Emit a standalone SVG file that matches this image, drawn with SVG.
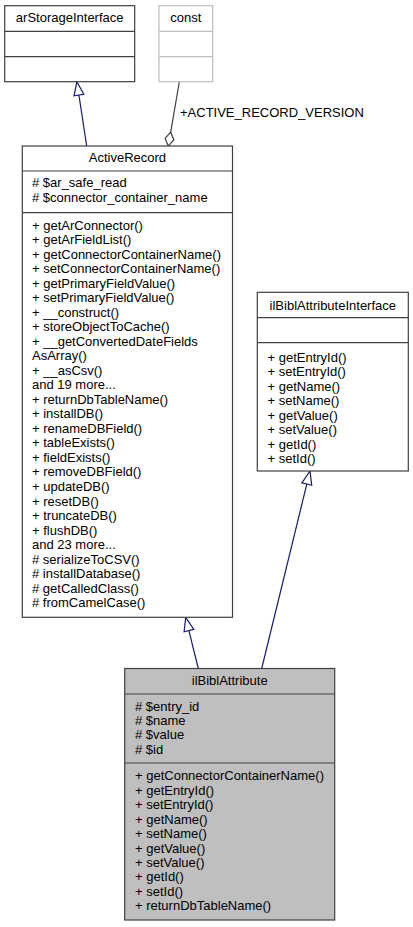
<svg xmlns="http://www.w3.org/2000/svg" width="413" height="927" viewBox="0 0 413 927">
<style>
text{font-family:"Liberation Sans",Arial,Helvetica,sans-serif;font-size:13px;fill:#000}
.c{text-anchor:middle}
.box{fill:#fff;stroke:#404040;stroke-width:1.2}
.sep{stroke:#404040;stroke-width:1.2}
.gbox{fill:#fff;stroke:#bfbfbf;stroke-width:1.2}
.gsep{stroke:#bfbfbf;stroke-width:1.2}
.cur{fill:#bfbfbf;stroke:#404040;stroke-width:1.2}
.inh{fill:none;stroke:#191970;stroke-width:1.2}
.inhh{fill:#fff;stroke:#191970;stroke-width:1.2}
.agg{fill:none;stroke:#404040;stroke-width:1.2}
.aggh{fill:#fff;stroke:#404040;stroke-width:1.2}
</style>
<rect width="413" height="927" fill="#fff"/>
<g id="connectors">
<path class="inh" d="M86.7,146 L78.9,95"/>
<polygon class="inhh" points="76.9,81.7 74,95.8 83.8,94.3"/>
<path class="agg" d="M179.3,82 L170.7,132.2"/>
<polygon class="aggh" points="168.3,146 165.1,138.3 170.7,132.2 173.9,139.9"/>
<text x="180" y="116.8">+ACTIVE_RECORD_VERSION</text>
<path class="inh" d="M198.3,668.5 L188.9,630.6"/>
<polygon class="inhh" points="185.7,617.5 184.1,631.8 193.8,629.4"/>
<path class="inh" d="M261.7,668.5 L306.8,484.1"/>
<polygon class="inhh" points="310,471 301.9,482.9 311.7,485.3"/>
</g>
<g id="arStorageInterface">
<rect class="box" x="4.7" y="5.7" width="130" height="76"/>
<line class="sep" x1="4.7" y1="31.3" x2="134.7" y2="31.3"/>
<line class="sep" x1="4.7" y1="56.7" x2="134.7" y2="56.7"/>
<text class="c" x="69.7" y="21.9">arStorageInterface</text>
</g>
<g id="const">
<rect class="gbox" x="159" y="5.7" width="53.7" height="76"/>
<line class="gsep" x1="159" y1="31.3" x2="212.7" y2="31.3"/>
<line class="gsep" x1="159" y1="56.7" x2="212.7" y2="56.7"/>
<text class="c" x="185.8" y="21.9">const</text>
</g>
<g id="ActiveRecord">
<rect class="box" x="22.3" y="146" width="210.2" height="471.3"/>
<line class="sep" x1="22.3" y1="171" x2="232.5" y2="171"/>
<line class="sep" x1="22.3" y1="212.7" x2="232.5" y2="212.7"/>
<text class="c" x="127.4" y="161.9">ActiveRecord</text>
<text x="32" y="187.3"># $ar_safe_read</text>
<text x="32" y="202.3"># $connector_container_name</text>
<text x="32" y="229.6">+ getArConnector()</text>
<text x="32" y="244.1">+ getArFieldList()</text>
<text x="32" y="258.6">+ getConnectorContainerName()</text>
<text x="32" y="273.2">+ setConnectorContainerName()</text>
<text x="32" y="287.7">+ getPrimaryFieldValue()</text>
<text x="32" y="302.2">+ setPrimaryFieldValue()</text>
<text x="32" y="316.7">+ __construct()</text>
<text x="32" y="331.2">+ storeObjectToCache()</text>
<text x="32" y="345.8">+ __getConvertedDateFields</text>
<text x="32" y="360.3">AsArray()</text>
<text x="32" y="374.8">+ __asCsv()</text>
<text x="32" y="389.3">and 19 more...</text>
<text x="32" y="403.8">+ returnDbTableName()</text>
<text x="32" y="418.4">+ installDB()</text>
<text x="32" y="432.9">+ renameDBField()</text>
<text x="32" y="447.4">+ tableExists()</text>
<text x="32" y="461.9">+ fieldExists()</text>
<text x="32" y="476.4">+ removeDBField()</text>
<text x="32" y="491">+ updateDB()</text>
<text x="32" y="505.5">+ resetDB()</text>
<text x="32" y="520">+ truncateDB()</text>
<text x="32" y="534.5">+ flushDB()</text>
<text x="32" y="549">and 23 more...</text>
<text x="32" y="563.6"># serializeToCSV()</text>
<text x="32" y="578.1"># installDatabase()</text>
<text x="32" y="592.6"># getCalledClass()</text>
<text x="32" y="607.1"># fromCamelCase()</text>
</g>
<g id="ilBiblAttributeInterface">
<rect class="box" x="257.3" y="292.3" width="151" height="178.7"/>
<line class="sep" x1="257.3" y1="317.7" x2="408.3" y2="317.7"/>
<line class="sep" x1="257.3" y1="342.7" x2="408.3" y2="342.7"/>
<text class="c" x="332.8" y="309.6">ilBiblAttributeInterface</text>
<text x="267.5" y="361.9">+ getEntryId()</text>
<text x="267.5" y="376.3">+ setEntryId()</text>
<text x="267.5" y="390.8">+ getName()</text>
<text x="267.5" y="405.2">+ setName()</text>
<text x="267.5" y="419.7">+ getValue()</text>
<text x="267.5" y="434.1">+ setValue()</text>
<text x="267.5" y="448.5">+ getId()</text>
<text x="267.5" y="463">+ setId()</text>
</g>
<g id="ilBiblAttribute">
<rect class="cur" x="124.7" y="668.5" width="210" height="251.5"/>
<line class="sep" x1="124.7" y1="694" x2="334.7" y2="694"/>
<line class="sep" x1="124.7" y1="763" x2="334.7" y2="763"/>
<text class="c" x="229.7" y="684.9">ilBiblAttribute</text>
<text x="135" y="710.6"># $entry_id</text>
<text x="135" y="725"># $name</text>
<text x="135" y="739.4"># $value</text>
<text x="135" y="753.8"># $id</text>
<text x="135" y="780.3">+ getConnectorContainerName()</text>
<text x="135" y="794.7">+ getEntryId()</text>
<text x="135" y="809.2">+ setEntryId()</text>
<text x="135" y="823.6">+ getName()</text>
<text x="135" y="838.1">+ setName()</text>
<text x="135" y="852.5">+ getValue()</text>
<text x="135" y="866.9">+ setValue()</text>
<text x="135" y="881.4">+ getId()</text>
<text x="135" y="895.8">+ setId()</text>
<text x="135" y="910.3">+ returnDbTableName()</text>
</g>
</svg>
